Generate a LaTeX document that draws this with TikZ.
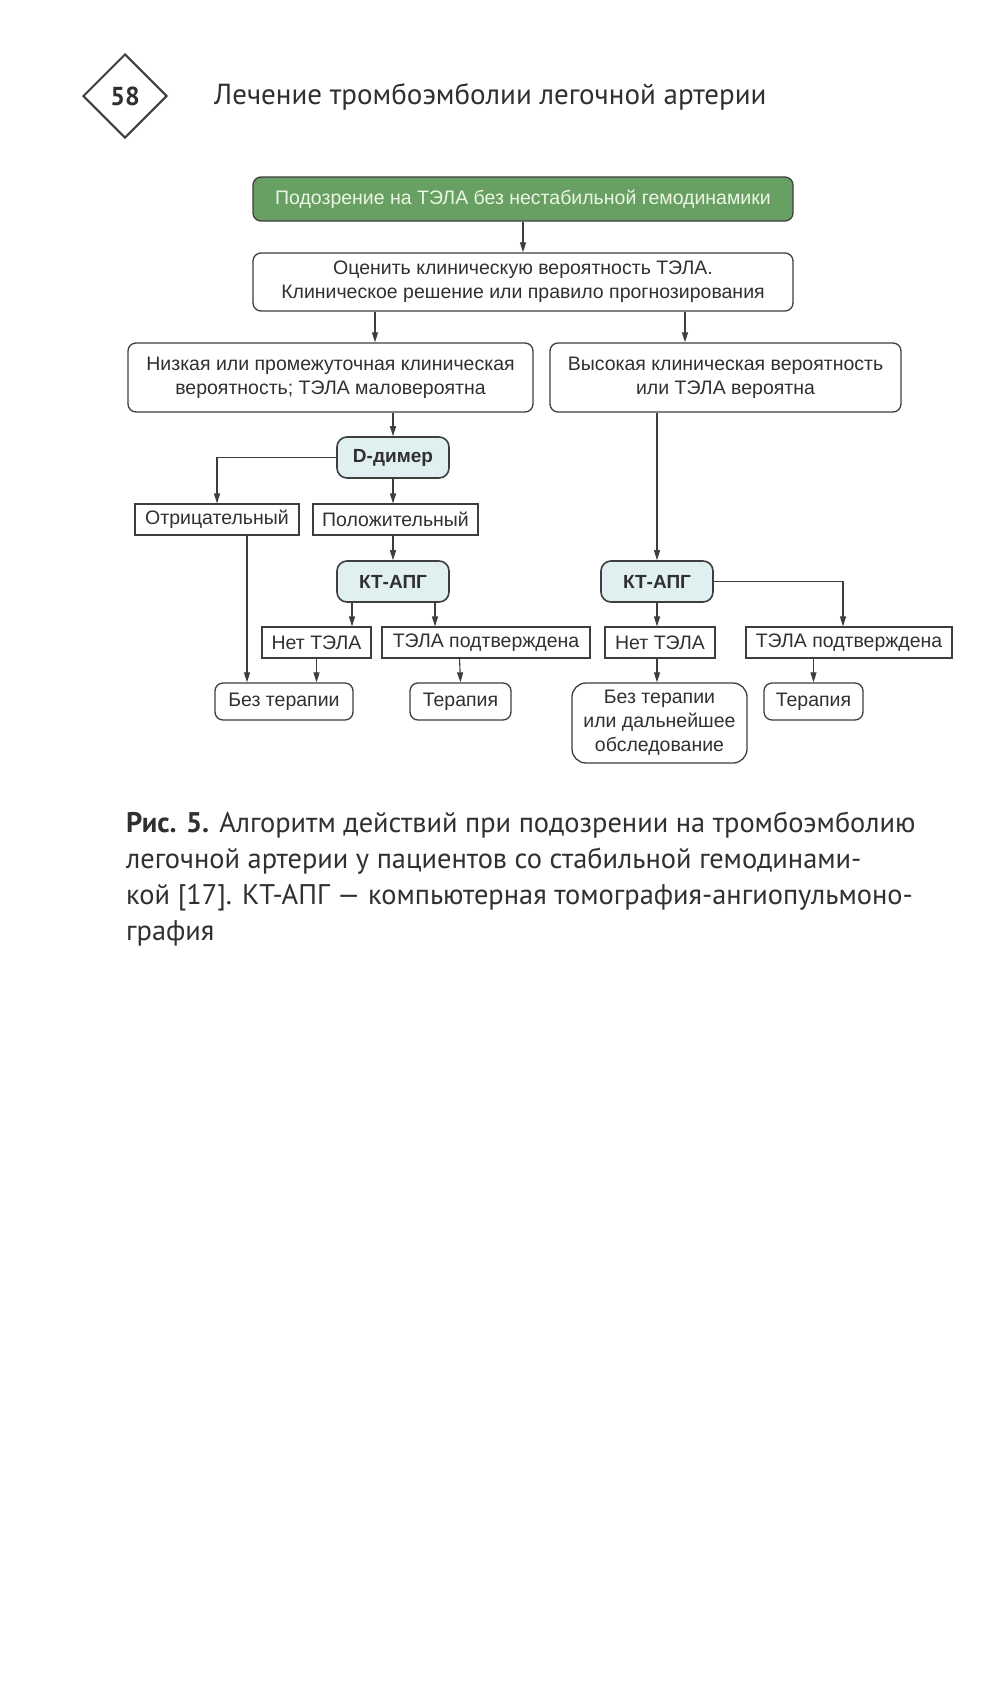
\documentclass[tikz,border=0pt]{standalone}
\usepackage{fontspec}
\usepackage{xcolor}
\usetikzlibrary{shapes.geometric,arrows.meta,positioning}
\setmainfont{PT Sans}
\newfontfamily\boxfont{Liberation Sans}
\definecolor{linegray}{RGB}{62,62,62}
\definecolor{textgray}{RGB}{48,48,48}
\definecolor{startgreen}{RGB}{104,160,100}
\definecolor{starttext}{RGB}{236,246,226}
\definecolor{testcyan}{RGB}{224,240,240}
\tikzset{
  roundbox/.style={draw=linegray,line width=1.3pt,rounded corners=8pt,align=center,
    inner sep=0pt,text=textgray,font=\boxfont\fontsize{19.5}{24}\selectfont},
  squarebox/.style={draw=linegray,line width=1.1pt,align=center,inner sep=0pt,
    text=textgray,font=\boxfont\fontsize{19.5}{24}\selectfont},
  testbox/.style={roundbox,fill=testcyan,rounded corners=10pt,line width=1.6pt,
    font=\boxfont\bfseries\fontsize{19}{23}\selectfont},
  arr/.style={draw=linegray,line width=1.1pt,-{Triangle[length=10pt,width=6pt]}},
  plain/.style={draw=linegray,line width=1.1pt}
}
\begin{document}
\begin{tikzpicture}[x=1pt,y=-1pt]
  \useasboundingbox[fill=white] (0,0) rectangle (1000,1697);
  % page head
  \node[diamond,draw=linegray,line width=2pt,minimum width=84pt,minimum height=84pt,
    inner sep=0pt,font=\bfseries\fontsize{26}{30}\selectfont,text=textgray] (page) at (125,96) {58};
  \node[anchor=west,inner sep=0pt,font=\fontsize{29}{34}\selectfont,text=textgray] (head) at (214,97)
    {Лечение тромбоэмболии легочной артерии};
  % boxes
  \begin{scope}[every node/.style={roundbox}]
    \node[fill=startgreen,text=starttext,minimum width=540pt,minimum height=44pt] (start) at (523,199)
      {Подозрение на ТЭЛА без нестабильной гемодинамики};
    \node[minimum width=540pt,minimum height=58pt] (assess) at (523,282)
      {Оценить клиническую вероятность ТЭЛА.\\Клиническое решение или правило прогнозирования};
    \node[minimum width=405pt,minimum height=69pt] (low) at (330.5,377.5)
      {Низкая или промежуточная клиническая\\вероятность; ТЭЛА маловероятна};
    \node[minimum width=351pt,minimum height=69pt] (high) at (725.5,377.5)
      {Высокая клиническая вероятность\\или ТЭЛА вероятна};
    \node[minimum width=138pt,minimum height=37pt] (notx1) at (284,701.5) {Без терапии};
    \node[minimum width=101pt,minimum height=37pt] (tx1) at (460.5,701.5) {Терапия};
    \node[minimum width=175pt,minimum height=80pt,rounded corners=14pt] (further) at (659.5,723)
      {Без терапии\\или дальнейшее\\обследование};
    \node[minimum width=99pt,minimum height=37pt] (tx2) at (813.5,701.5) {Терапия};
  \end{scope}
  \begin{scope}[every node/.style={testbox,minimum width=112pt,minimum height=41pt}]
    \node (ddim) at (393,457.5) {D-димер};
    \node (kt1) at (393,581.5) {КТ-АПГ};
    \node (kt2) at (657,581.5) {КТ-АПГ};
  \end{scope}
  \begin{scope}[every node/.style={squarebox,minimum height=31pt}]
    \node[minimum width=164pt] (neg) at (217,519.5) {Отрицательный};
    \node[minimum width=165pt] (pos) at (395.5,519.5) {Положительный};
    \node[minimum width=109pt] (no1) at (316.5,642.5) {Нет ТЭЛА};
    \node[minimum width=208pt] (yes1) at (486,642.5) {ТЭЛА подтверждена};
    \node[minimum width=110pt] (no2) at (660,642.5) {Нет ТЭЛА};
    \node[minimum width=206pt] (yes2) at (849,642.5) {ТЭЛА подтверждена};
  \end{scope}
  % connectors
  \draw[arr] (start) -- (assess);
  \draw[arr] ([xshift=-148pt]assess.south) -- ([xshift=-148pt]assess.south |- low.north);
  \draw[arr] ([xshift=162pt]assess.south) -- ([xshift=162pt]assess.south |- high.north);
  \draw[arr] (low.south -| ddim) -- (ddim.north);
  \draw[arr] (ddim.west) -| (neg.north);
  \draw[arr] (ddim.south) -- (ddim.south |- pos.north);
  \draw[arr] (pos.south -| kt1) -- (kt1.north);
  \draw[arr] ([xshift=-41pt]kt1.south) -- ([xshift=-41pt]kt1.south |- no1.north);
  \draw[arr] ([xshift=42pt]kt1.south) -- ([xshift=42pt]kt1.south |- yes1.north);
  \draw[arr] ([xshift=30pt]neg.south) -- ([xshift=30pt]neg.south |- notx1.north);
  \draw[arr] (no1.south) -- (no1.south |- notx1.north);
  \draw[arr] ([xshift=-1pt]yes1.south -| tx1) -- (tx1.north);
  \draw[arr] (high.south -| kt2) -- (kt2.north);
  \draw[arr] (kt2.east) -| ([xshift=-6pt]yes2.north);
  \draw[arr] (kt2.south) -- (kt2.south |- no2.north);
  \draw[arr] (no2.south -| kt2) -- (further.north -| kt2);
  \draw[arr] (yes2.south -| tx2) -- (tx2.north);
  % caption
  \node[anchor=north west,inner sep=0pt,align=left,text=textgray,
    font=\fontsize{28.4}{36}\selectfont] (caption) at (126,812)
    {\textbf{Рис. 5.} Алгоритм действий при подозрении на тромбоэмболию\\
     легочной артерии у пациентов со стабильной гемодинами-\\
     кой [17]. КТ-АПГ — компьютерная томография-ангиопульмоно-\\
     графия};
\end{tikzpicture}
\end{document}
